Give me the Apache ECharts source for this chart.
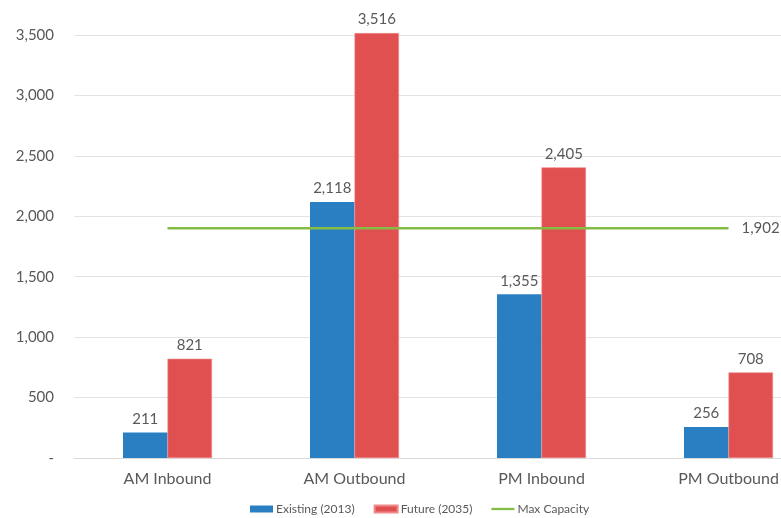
<!DOCTYPE html>
<html><head><meta charset="utf-8">
<script src="https://cdn.jsdelivr.net/npm/echarts@6/dist/echarts.min.js"></script>
<style>html,body{margin:0;padding:0;background:#fff;overflow:hidden}#c{width:822px;height:518px}</style>
</head><body><div id="c"></div>
<script>
const categories = ['AM Inbound', 'AM Outbound', 'PM Inbound', 'PM Outbound'];
const existing2013 = [211, 2118, 1355, 256];
const future2035 = [821, 3516, 2405, 708];
const maxCapacity = [1902, 1902, 1902, 1902];
const seriesNames = ['Existing (2013)', 'Future (2035)', 'Max Capacity'];

const fmt = v => v === 0 ? '-' : v.toLocaleString('en-US');
const FONT = 'Lato';
const chart = echarts.init(document.getElementById('c'), null, {renderer: 'canvas'});
chart.setOption({
  animation: false,
  textStyle: {fontFamily: FONT},
  grid: {left: 74, right: 0, top: 35, bottom: 60},
  legend: {
    left: 250, top: 503, padding: 0,
    itemWidth: 23, itemHeight: 7, itemGap: 19,
    textStyle: {fontFamily: FONT, fontSize: 12, color: '#595959', padding: [0, 0, 0, -2]},
    data: [
      {name: seriesNames[0], icon: 'rect'},
      {name: seriesNames[1], icon: 'rect'},
      {name: seriesNames[2], icon: 'path://M0,0 L25,0 L25,2.5 L0,2.5 Z'}
    ]
  },
  xAxis: {
    type: 'category', data: categories,
    axisLine: {lineStyle: {color: '#d9d9d9'}},
    axisTick: {show: false},
    axisLabel: {fontFamily: FONT, fontSize: 16, color: '#595959', margin: 13}
  },
  yAxis: {
    type: 'value', min: 0, max: 3500, interval: 500,
    axisLine: {show: false}, axisTick: {show: false},
    splitLine: {lineStyle: {color: '#e3e3e3'}},
    axisLabel: {fontFamily: FONT, fontSize: 15, color: '#595959', margin: 20, formatter: fmt}
  },
  series: [
    {
      name: seriesNames[0], type: 'bar', data: existing2013, barWidth: 44.5, barGap: '0%',
      clip: false,
      itemStyle: {color: '#2a7fc2'},
      label: {show: true, position: 'top', distance: 6, fontFamily: FONT, fontSize: 15, color: '#595959', formatter: p => fmt(p.value)}
    },
    {
      name: seriesNames[1], type: 'bar', data: future2035, barWidth: 44.5, barGap: '0%',
      clip: false,
      itemStyle: {color: '#e05050', borderColor: '#f08a8a', borderWidth: 0.6},
      label: {show: true, position: 'top', distance: 6, fontFamily: FONT, fontSize: 15, color: '#595959', formatter: p => fmt(p.value)}
    },
    {
      name: seriesNames[2], type: 'line', data: maxCapacity,
      symbol: 'none', showSymbol: false,
      lineStyle: {color: '#84bc46', width: 2.5},
      itemStyle: {color: '#84bc46'},
      endLabel: {show: true, distance: 13, fontFamily: FONT, fontSize: 15, color: '#595959', formatter: p => fmt(p.value)}
    }
  ]
});
</script>
</body></html>
